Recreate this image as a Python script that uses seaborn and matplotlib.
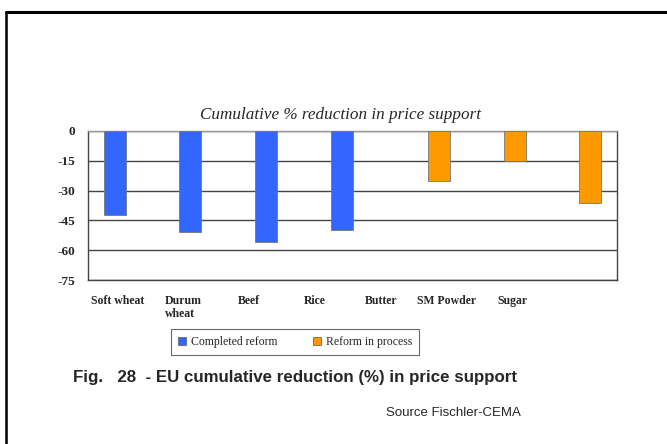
import numpy as np
import pandas as pd
import matplotlib
matplotlib.use("Agg")
import matplotlib.pyplot as plt
from matplotlib.lines import Line2D
import seaborn as sns

categories = ["Soft wheat", "Durum\nwheat", "Beef", "Rice", "Butter", "SM Powder", "Sugar"]
completed = [-42, -51, -56, -50, None, None, None]
in_process = [None, None, None, None, -25, -15, -36]
series_names = ["Completed reform", "Reform in process"]
yticks = [0, -15, -30, -45, -60, -75]

rows = []
for c, v in zip(categories, completed):
    if v is not None:
        rows.append((c, series_names[0], v))
for c, v in zip(categories, in_process):
    if v is not None:
        rows.append((c, series_names[1], v))
df = pd.DataFrame(rows, columns=["category", "reform", "value"])

sns.set_style("white")
plt.rcParams["font.family"] = ["Liberation Serif", "DejaVu Serif"]

fig = plt.figure(figsize=(6.67, 4.44), dpi=100)
ax = fig.add_axes([0.132, 0.369, 0.793, 0.336])

palette = {series_names[0]: "#3366FF", series_names[1]: "#FF9900"}
sns.barplot(data=df, x="category", y="value", hue="reform", order=categories,
            hue_order=series_names, palette=palette, dodge=True, width=0.58,
            edgecolor="#777777", linewidth=0.6, saturation=1, ax=ax, zorder=3)

ax.set_ylim(-75, 0)
ax.set_yticks(yticks)
ax.set_yticklabels([str(t) for t in yticks], fontweight="bold", fontsize=9.5)
ax.set_xlim(-0.5, len(categories) - 0.5)
# the original renders labels on a slightly compressed spacing
label_pos = [-0.11 + 0.872 * i for i in range(len(categories))]
ax.set_xticks(label_pos)
ax.set_xticklabels(categories, fontweight="bold", fontsize=8.5, va="top", ha="center",
                   multialignment="left", linespacing=1.1)
ax.tick_params(axis="x", length=0, pad=11)
ax.tick_params(axis="y", length=0, pad=9)
ax.set_xlabel("")
ax.set_ylabel("")
ax.yaxis.grid(True, color="#444444", linewidth=1, zorder=0)
ax.xaxis.grid(False)
ax.set_axisbelow(True)
for side in ["left", "bottom", "right"]:
    ax.spines[side].set_color("#444444")
    ax.spines[side].set_linewidth(1)
ax.spines["top"].set_color("#999999")
ax.spines["top"].set_linewidth(1)

fig.text(340 / 667, 1 - 115 / 444, "Cumulative % reduction in price support",
         fontstyle="italic", fontsize=12.3, ha="center", va="center")

leg = ax.legend(loc="center", bbox_to_anchor=(295 / 667, 1 - 342 / 444),
                bbox_transform=fig.transFigure, ncol=2, frameon=True,
                fancybox=False, edgecolor="#444444", fontsize=8.5,
                handlelength=0.7, handleheight=0.7, handletextpad=0.4,
                columnspacing=3.0, borderpad=0.6)
leg.get_frame().set_linewidth(0.8)
for h in leg.legend_handles:
    h.set_edgecolor("#555555")
    h.set_linewidth(0.5)

fig.text(73 / 667, 1 - 377 / 444,
         "Fig.   28  - EU cumulative reduction (%) in price support",
         family=["Liberation Sans", "DejaVu Sans"], fontweight="bold",
         fontsize=12.2, ha="left", va="center")
fig.text(521 / 667, 1 - 413 / 444, "Source Fischler-CEMA",
         family=["Liberation Sans", "DejaVu Sans"], fontsize=9.5,
         ha="right", va="center")

fig.add_artist(Line2D([5.5 / 667, 1.0], [1 - 12 / 444, 1 - 12 / 444],
                      transform=fig.transFigure, color="black", linewidth=2.2))
fig.add_artist(Line2D([5.5 / 667, 5.5 / 667], [0, 1 - 12 / 444],
                      transform=fig.transFigure, color="black", linewidth=1.8))

fig.savefig("out.png", dpi=100, facecolor="white")
